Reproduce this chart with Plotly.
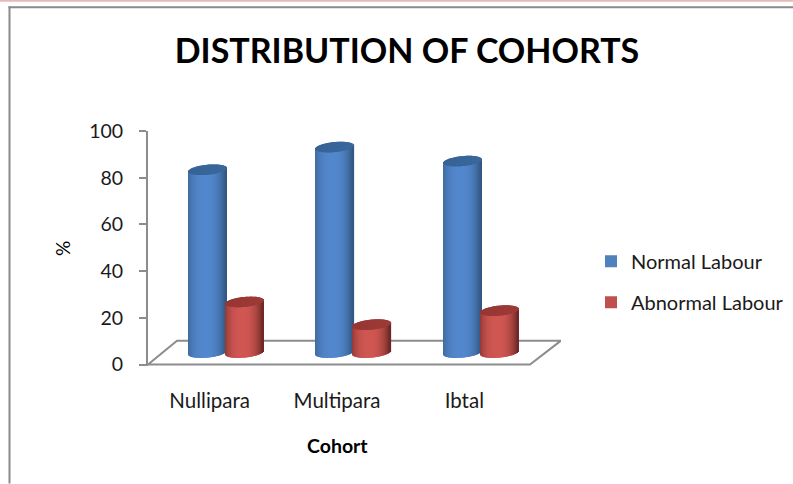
import math
import plotly.graph_objects as go

categories = ["Nullipara", "Multipara", "Ibtal"]
normal_labour = [78.3, 88, 82]
abnormal_labour = [21.7, 12, 18]
y_ticks = [0, 20, 40, 60, 80, 100]

W, H = 793, 484
PLOT_L, PLOT_R, Y0_PX, Y100_PX = 148, 561, 365.0, 131.0
PX_PER_CAT = (530 - 148) / 3
PX_PER_VAL = (Y0_PX - Y100_PX) / 100
X_MIN = -0.5
X_MAX = X_MIN + (PLOT_R - PLOT_L) / PX_PER_CAT
Y_MIN = -0.6
PLOT_B = Y0_PX - Y_MIN * PX_PER_VAL
DEPTH = 12 / PX_PER_VAL
ELL = 5.0 / PX_PER_VAL
TILT = 1.8 / PX_PER_VAL
BAR_W = 38 / PX_PER_CAT
N = 38


def px(x):
    return (x - PLOT_L) / (PLOT_R - PLOT_L)


def py(y):
    return (PLOT_B - y) / (PLOT_B - Y100_PX)


def mix(a, b, f):
    return "rgb(%d,%d,%d)" % tuple(round(a[i] + (b[i] - a[i]) * f) for i in range(3))


def cylinder(values, offset_px, edge, centre, top_col, top_col2):
    bx, bb, by, bc, tx, tb, ty, tc = [], [], [], [], [], [], [], []
    for i, v in enumerate(values):
        for k in range(N):
            t = (k + 0.5) / N * 2 - 1
            e = math.sqrt(max(0, 1 - t * t))
            xpos = i + offset_px / PX_PER_CAT + t * BAR_W / 2
            low = DEPTH - ELL * e + TILT * t
            top = DEPTH + v + TILT * t
            bx.append(xpos)
            bb.append(low)
            by.append(top - low)
            bc.append(mix(edge, centre, (1 - abs(t + 0.1) ** 2.6)))
            tx.append(xpos)
            tb.append(top - ELL * e)
            ty.append(2 * ELL * e)
            tc.append(mix(top_col, top_col2, (t + 1) / 2))
    w = 1.25 * BAR_W / N
    return [
        go.Bar(x=bx, y=by, base=bb, width=w, marker=dict(color=bc, line_width=0),
               showlegend=False, hoverinfo="skip"),
        go.Bar(x=tx, y=ty, base=tb, width=w, marker=dict(color=tc, line_width=0),
               showlegend=False, hoverinfo="skip"),
    ]


fig = go.Figure()
positions = list(range(len(categories)))
# Legend-carrying traces, hidden behind the shaded cylinders
fig.add_trace(go.Bar(x=[p - 4 / PX_PER_CAT for p in positions], y=normal_labour, base=DEPTH,
                     width=0.05, name="Normal Labour", legendgroup="n",
                     marker=dict(color="#4F81BD", line_width=0)))
fig.add_trace(go.Bar(x=[p + 33 / PX_PER_CAT for p in positions], y=abnormal_labour, base=DEPTH,
                     width=0.05, name="Abnormal Labour", legendgroup="a",
                     marker=dict(color="#C0504D", line_width=0)))
for tr in cylinder(normal_labour, -4, (56, 96, 142), (82, 135, 205), (54, 98, 150), (58, 104, 156)):
    fig.add_trace(tr)
for tr in cylinder(abnormal_labour, 33, (126, 48, 46), (208, 86, 82), (150, 54, 50), (156, 58, 54)):
    fig.add_trace(tr)

GREY = "#8C8C8C"
floor_dx = 29 / PX_PER_CAT
floor_top = 24 / PX_PER_VAL
fx0, fx1 = X_MIN, 2.5
floor_path = (f"M {fx0},0 L {fx0 + floor_dx},{floor_top} "
              f"L {X_MAX},{floor_top} L {fx1},0 Z")
shapes = [
    dict(type="path", path=floor_path, xref="x", yref="y", layer="below",
         line=dict(color=GREY, width=2)),
    dict(type="line", xref="paper", yref="paper", x0=px(0), x1=px(W), y0=py(0.5), y1=py(0.5),
         line=dict(color="#E6B8B8", width=2)),
    dict(type="line", xref="paper", yref="paper", x0=px(9.5), x1=px(9.5), y0=py(H), y1=py(6),
         line=dict(color="#8A8A8A", width=2)),
    dict(type="line", xref="paper", yref="paper", x0=px(8.5), x1=px(W), y0=py(7), y1=py(7),
         line=dict(color="#8A8A8A", width=2)),
]

fig.update_layout(
    width=W, height=H, autosize=False,
    paper_bgcolor="white", plot_bgcolor="rgba(0,0,0,0)",
    barmode="overlay",
    margin=dict(l=PLOT_L, r=W - PLOT_R, t=Y100_PX, b=H - PLOT_B, pad=0, autoexpand=False),
    font=dict(family="Lato", color="#1a1a1a", size=17),
    title=dict(text="<b>DISTRIBUTION OF COHORTS</b>", x=407 / W, xanchor="center",
               y=1 - 51 / H, yanchor="middle", font=dict(size=34, color="#000000", family="Lato")),
    xaxis=dict(range=[X_MIN, X_MAX], tickvals=[p - 2 / PX_PER_CAT for p in positions],
               ticktext=categories, ticks="",
               showgrid=False, zeroline=False, showline=False, ticklabelstandoff=20,
               tickfont=dict(size=20.5, color="#1a1a1a")),
    yaxis=dict(range=[Y_MIN, 100], tickvals=y_ticks, ticks="outside", ticklen=7, tickwidth=2,
               tickcolor=GREY, linecolor=GREY, linewidth=2, showline=True, showgrid=False,
               zeroline=False, tickfont=dict(size=19.5, color="#1a1a1a"), ticklabelstandoff=12,
               title=dict(text="%", standoff=14, font=dict(size=19, color="#000000"))),
    legend=dict(x=px(591), y=py(282), xanchor="left", yanchor="middle",
                font=dict(size=20, color="#1a1a1a"), tracegroupgap=12, itemwidth=30,
                traceorder="grouped", bgcolor="rgba(0,0,0,0)"),
    shapes=shapes,
    annotations=[dict(text="<b>Cohort</b>", xref="paper", yref="paper",
                      x=px(337), y=py(446),
                      xanchor="center", yanchor="middle", showarrow=False,
                      font=dict(size=19.5, color="#000000"))],
)
fig.write_html("out.html", config=dict(displayModeBar=False),
               post_script="document.body.style.margin='0';")
